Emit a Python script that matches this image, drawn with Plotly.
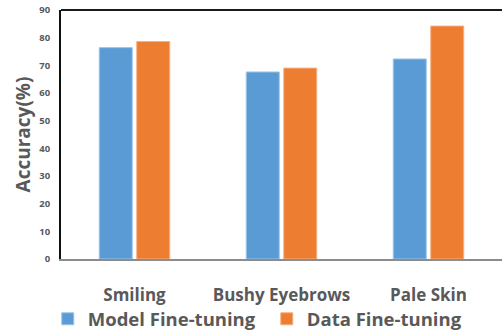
import plotly.graph_objects as go

# Attribute accuracy for the two fine-tuning strategies
categories = ["Smiling", "Bushy Eyebrows", "Pale Skin"]
model_ft = [76.4, 67.6, 72.3]
data_ft = [78.6, 69.0, 84.2]
y_ticks = [0, 10, 20, 30, 40, 50, 60, 70, 80, 90]

FONT = "Open Sans"
GREY = "#595959"

fig = go.Figure()
fig.add_trace(go.Bar(
    x=categories, y=model_ft, name="Model Fine-tuning",
    marker=dict(color="#5B9BD5", line=dict(color="#9DC3E6", width=1)),
))
fig.add_trace(go.Bar(
    x=categories, y=data_ft, name="Data Fine-tuning",
    marker=dict(color="#ED7D31", line=dict(color="#F4B183", width=1)),
))

fig.update_layout(
    width=502, height=331,
    margin=dict(l=61, r=0, t=10, b=72, autoexpand=False),
    paper_bgcolor="white", plot_bgcolor="white",
    barmode="group", bargap=0.49, bargroupgap=0.12,
    font=dict(family=FONT, color=GREY),
    showlegend=True,
    legend=dict(
        orientation="h", x=-0.03, xanchor="left", y=-0.242, yanchor="middle",
        bgcolor="rgba(0,0,0,0)",
        font=dict(family=FONT, size=18.5, color=GREY, weight="bold"),
        itemclick=False, traceorder="normal", entrywidth=174,
    ),
    shapes=[dict(type="line", xref="paper", yref="paper", x0=0, x1=1, y0=1, y1=1,
                 line=dict(color="#1a1a1a", width=2))],
)
fig.update_xaxes(
    range=[-0.5, 2.5], showgrid=False, showline=True, linecolor="#8c8c8c", linewidth=2,
    ticks="", ticklabelstandoff=20, automargin=False,
    tickfont=dict(family=FONT, size=17, color=GREY, weight="bold"),
)
fig.update_yaxes(
    range=[0, 90], tickvals=y_ticks, showgrid=False, zeroline=False,
    showline=True, linecolor="#111111", linewidth=2, ticks="", ticklabelstandoff=7,
    automargin=False,
    tickfont=dict(family=FONT, size=9.5, color=GREY, weight="bold"),
    title=dict(text="Accuracy(%)", standoff=4,
               font=dict(family=FONT, size=19, color=GREY, weight="bold")),
)

fig.write_html("out.html")
